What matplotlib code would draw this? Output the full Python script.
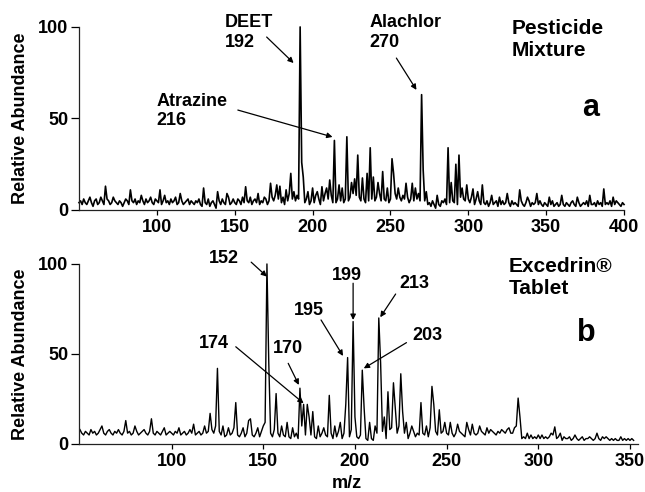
import numpy as np
import matplotlib.pyplot as plt

plt.rcParams['font.family'] = ['Liberation Sans', 'DejaVu Sans']
plt.rcParams['font.weight'] = 'bold'

# ---- panel a: pesticide mixture, baseline at m/z 50..400 (step 1) ----
mz_a_start = 50
base_a = [
    4, 5, 3, 6, 4, 3, 5, 7, 4, 2, 5, 6, 3, 4, 7, 5, 3, 4, 6, 5, 3, 4, 7, 5, 4,
    3, 5, 4, 2, 4, 6, 5, 3, 7, 5, 4, 6, 3, 5, 4, 8, 5, 3, 6, 4, 5, 7, 4, 3, 6,
    5, 4, 6, 3, 5, 8, 4, 5, 3, 6, 4, 5, 7, 3, 4, 6, 5, 3, 4, 5, 6, 3, 5, 4, 3,
    5, 4, 6, 3, 2, 5, 4, 3, 6, 2, 4, 5, 3, 1, 4, 5, 3, 6, 4, 3, 5, 7, 3, 4, 6,
    4, 3, 6, 5, 3, 7, 4, 6, 5, 4, 7, 3, 5, 6, 4, 8, 3, 5, 4, 7, 6, 3, 5, 4, 7,
    5, 8, 4, 6, 5, 4, 7, 3, 6, 5, 9, 4, 6, 3, 5, 8, 6, 4, 8, 5, 4, 6, 9, 3, 5,
    6, 4, 8, 5, 6, 3, 7, 5, 9, 4, 6, 5, 8, 4, 7, 4, 6, 9, 5, 7, 4, 6, 8, 5, 7,
    6, 9, 5, 8, 6, 7, 5, 9, 6, 4, 7, 5, 10, 6, 8, 5, 7, 6, 9, 5, 8, 6, 5, 7, 4,
    6, 8, 5, 9, 6, 4, 7, 5, 8, 6, 5, 7, 4, 6, 8, 5, 4, 6, 9, 5, 6, 8, 5, 4, 3,
    4, 2, 5, 3, 1, 4, 3, 2, 5, 4, 6, 3, 5, 4, 7, 5, 4, 6, 3, 5, 7, 4, 6, 5, 3,
    6, 4, 7, 5, 3, 6, 4, 5, 3, 6, 4, 3, 5, 2, 4, 6, 3, 4, 5, 2, 4, 3, 5, 3, 4,
    3, 4, 2, 5, 3, 4, 3, 2, 4, 5, 3, 2, 4, 3, 5, 2, 4, 3, 4, 2, 3, 5, 3, 2, 4,
    3, 2, 4, 3, 5, 2, 3, 4, 2, 3, 5, 3, 2, 4, 3, 2, 4, 5, 3, 2, 3, 4, 2, 3, 4,
    3, 5, 2, 4, 3, 3, 4, 2, 5, 3, 4, 2, 6, 3, 4, 3, 5, 2, 4, 3, 5, 4, 3, 2, 4,
    3,
]
peak_mz_a = [67, 83, 102, 115, 130, 139, 145, 157, 165, 173, 177, 179, 183, 186,
             188, 192, 193, 194, 197, 200, 203, 206, 209, 211, 214, 217, 219, 222,
             225, 227, 229, 232, 235, 237, 239, 242, 245, 248, 251, 252, 255, 260,
             264, 266, 270, 271, 273, 280, 287, 289, 292, 294, 296, 299, 303, 306,
             309, 315, 320, 325, 333, 338, 344, 352, 360, 370, 378, 387, 393]
peak_h_a = [13, 11, 11, 9, 12, 10, 9, 12.7, 9, 14.6, 13.7, 13, 11, 20,
            10, 100, 26, 18, 10, 12, 10, 12.7, 12, 16.4, 38, 13.7, 12, 40,
            15, 17, 30, 17.5, 20, 34, 18, 15, 21, 12, 28, 20, 12, 14.6,
            14.6, 12, 63, 22, 10, 8, 34, 15, 25, 30, 12, 13.7, 11.5, 10,
            13.7, 8, 7, 9, 11, 7, 9, 7, 8, 7, 8, 11.5, 7]

# ---- panel b: Excedrin tablet, baseline at m/z 50..352 (step 1) ----
mz_b_start = 50
base_b = [
    8, 6, 5, 7, 6, 5, 8, 6, 7, 5, 6, 8, 7, 6, 5, 7, 8, 6, 5, 7, 6, 8, 6, 5, 7,
    8, 6, 7, 5, 6, 8, 7, 5, 6, 7, 8, 6, 5, 7, 9, 6, 5, 7, 6, 5, 7, 6, 5, 6, 7,
    6, 5, 7, 6, 8, 5, 6, 7, 5, 6, 8, 6, 7, 5, 6, 7, 5, 6, 8, 6, 7, 9, 8, 6, 10,
    12, 7, 5, 6, 4, 5, 7, 5, 6, 9, 8, 5, 4, 6, 5, 4, 6, 8, 7, 5, 4, 6, 5, 4, 7,
    5, 12, 20, 14, 6, 4, 8, 12, 6, 4, 3, 5, 4, 7, 4, 3, 5, 4, 6, 3, 9, 10, 8, 5, 7,
    6, 5, 8, 4, 3, 5, 4, 6, 3, 5, 4, 7, 6, 3, 5, 4, 7, 5, 3, 6, 8, 12, 4, 8, 20,
    6, 4, 3, 5, 12, 8, 3, 2, 5, 3, 2, 4, 6, 14, 20, 7, 4, 3, 6, 8, 9, 5, 4, 6, 10,
    7, 4, 6, 5, 3, 6, 5, 7, 4, 6, 5, 8, 6, 5, 7, 4, 9, 10, 6, 7, 5, 8, 6, 7, 5,
    6, 5, 7, 6, 4, 6, 5, 7, 6, 5, 4, 6, 8, 5, 7, 6, 5, 6, 8, 7, 6, 5, 7, 6, 8,
    7, 6, 5, 7, 6, 5, 7, 6, 8, 7, 6, 6, 9, 10, 5, 4, 3, 4, 3, 4, 3, 5, 3, 4, 3,
    4, 3, 5, 3, 4, 3, 4, 6, 5, 4, 3, 4, 3, 2, 4, 3, 3, 4, 2, 3, 4, 3, 2, 3, 4,
    2, 3, 3, 4, 3, 2, 3, 2, 3, 2, 4, 3, 2, 3, 2, 3, 2, 3, 2, 2, 3, 2, 3, 2, 3,
    2, 3, 2,
]
peak_mz_b = [62, 75, 80, 89, 96, 104, 112, 118, 121, 125, 128, 131, 135, 139,
             142, 143, 147, 150, 152, 153, 157, 160, 163, 166, 170, 172, 174, 175,
             177, 180, 183, 186, 189, 192, 195, 196, 199, 200, 204, 205, 208, 211,
             213, 214, 216, 218, 221, 222, 225, 226, 228, 231, 236, 239, 242, 243,
             246, 249, 252, 256, 261, 264, 268, 272, 280, 284, 289, 290, 294, 300,
             309, 312, 320, 332, 337, 345]
peak_h_b = [10, 13, 10, 14, 9, 9, 11, 10, 17, 42, 10, 9, 23, 9,
            13, 14, 9, 10, 100, 45, 28, 10, 12, 9, 31, 22, 22, 15,
            18, 10, 9, 27, 10, 12, 22, 48, 68, 15, 41, 20, 12, 10,
            70, 45, 15, 29, 34, 20, 39, 18, 12, 10, 23, 10, 32, 22,
            19, 12, 12, 11, 12, 11, 10, 9, 8, 9, 25.5, 15, 6, 5,
            9.5, 6, 5, 6, 4, 4]


def spectrum(start, base, pk_mz, pk_h):
    x = np.arange(start, start + len(base))
    y = np.array(base, dtype=float)
    for m, h in zip(pk_mz, pk_h):
        y[m - start] = h
    return x, y


def style_axes(ax, xlim, xticks, ylab_x):
    ax.set_xlim(*xlim)
    ax.set_ylim(0, 100)
    ax.set_xticks(xticks)
    ax.set_yticks([0, 50, 100])
    for s in ['top', 'right']:
        ax.spines[s].set_visible(False)
    for s in ['left', 'bottom']:
        ax.spines[s].set_linewidth(0.9)
        ax.spines[s].set_color('#222222')
    ax.tick_params(axis='y', direction='out', length=5.5, width=0.9, labelsize=13, pad=2)
    ax.tick_params(axis='x', direction='out', length=3.5, width=0.9, labelsize=13, pad=3)
    for lab in ax.get_xticklabels() + ax.get_yticklabels():
        lab.set_fontweight('bold')
    ax.set_ylabel('Relative Abundance', fontsize=13, fontweight='bold')
    ax.yaxis.set_label_coords(ylab_x, 0.5)


arrow = dict(arrowstyle='-|>', color='black', lw=0.9, mutation_scale=8,
             shrinkA=0, shrinkB=0)


def pointer(ax, start, end):
    ax.annotate('', xy=end, xytext=start, arrowprops=arrow, annotation_clip=False)


def note(ax, x, y, text, ha='left', size=13):
    ax.text(x, y, text, ha=ha, va='center', fontsize=size, fontweight='bold',
            linespacing=1.2)


fig = plt.figure(figsize=(6.45, 4.92), dpi=100)
ax1 = fig.add_axes([0.1225, 0.5732, 0.845, 0.372])
ax2 = fig.add_axes([0.1225, 0.0976, 0.8667, 0.3659])

xa, ya = spectrum(mz_a_start, base_a, peak_mz_a, peak_h_a)
ax1.plot(xa, ya, color='black', lw=1.2, clip_on=False)
style_axes(ax1, (50, 400), [100, 150, 200, 250, 300, 350, 400], -0.092)

xb, yb = spectrum(mz_b_start, base_b, peak_mz_b, peak_h_b)
ax2.plot(xb, yb, color='black', lw=1.0, clip_on=False)
style_axes(ax2, (49.5, 354.4), [100, 150, 200, 250, 300, 350], -0.089)
ax2.set_xlabel('m/z', fontsize=13, fontweight='bold')
ax2.xaxis.set_label_coords(0.479, -0.17)

# panel a annotations
note(ax1, 143.6, 97, 'DEET\n192')
pointer(ax1, (170.5, 94.5), (187.8, 80.3))
note(ax1, 100, 54, 'Atrazine\n216')
pointer(ax1, (152, 54.6), (212.8, 39.9))
note(ax1, 236.5, 97, 'Alachlor\n270')
pointer(ax1, (253.8, 83), (266.7, 65.6))
note(ax1, 327.6, 93, 'Pesticide\nMixture', size=15)
note(ax1, 378.8, 55.7, 'a', ha='center', size=22)

# panel b annotations
note(ax2, 128.5, 102.8, '152', ha='center')
pointer(ax2, (143.4, 101), (152, 93))
note(ax2, 174.7, 73.9, '195', ha='center')
pointer(ax2, (181.5, 68.9), (193.5, 48.9))
note(ax2, 195.4, 93.6, '199', ha='center')
pointer(ax2, (199, 89.3), (199, 68.9))
note(ax2, 232.6, 88.9, '213', ha='center')
pointer(ax2, (222.2, 83.3), (213.8, 70.4))
note(ax2, 239.5, 60, '203', ha='center')
pointer(ax2, (228.1, 56.3), (204.8, 42))
note(ax2, 122.8, 56, '174', ha='center')
pointer(ax2, (135, 54), (172, 22.6))
note(ax2, 163.2, 53, '170', ha='center')
pointer(ax2, (163.6, 44.8), (169.4, 32.8))
note(ax2, 283.9, 92.5, 'Excedrin®\nTablet', size=15)
note(ax2, 326, 61.4, 'b', ha='center', size=22)

fig.savefig('out.png', dpi=100)
